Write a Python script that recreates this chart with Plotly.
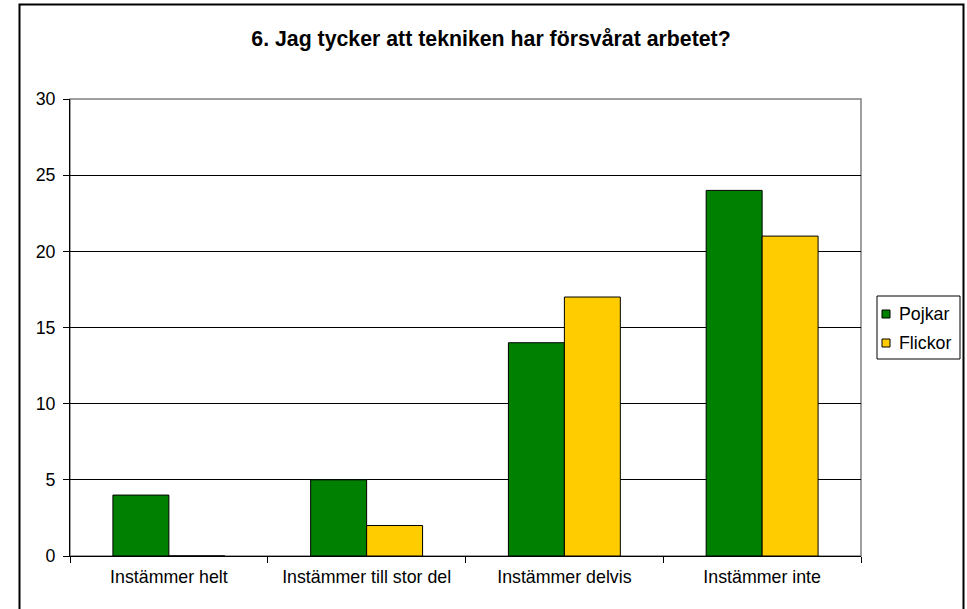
import plotly.graph_objects as go

categories = ["Instämmer helt", "Instämmer till stor del", "Instämmer delvis", "Instämmer inte"]
series_names = ["Pojkar", "Flickor"]
pojkar = [4, 5, 14, 24]
flickor = [0, 2, 17, 21]
series_colors = ["#008000", "#FFCC00"]
title_text = "6. Jag tycker att tekniken har försvårat arbetet?"

W, H = 967, 609
L, R, T, B = 70, 861, 99, 556
pw, ph = R - L, B - T
FONT = "Liberation Sans, Arial, sans-serif"
FS = 17.8


def px(x):
    return (x - L) / pw


def py(y):
    return (B - y) / ph


fig = go.Figure()
for name, vals, col in zip(series_names, [pojkar, flickor], series_colors):
    fig.add_trace(go.Bar(x=categories, y=vals, name=name, showlegend=False,
                         marker=dict(color=col, line=dict(color="black", width=1))))

shapes = [
    dict(type="rect", xref="paper", yref="paper", x0=0, x1=1, y0=0, y1=1,
         line=dict(color="#808080", width=1.5), layer="below"),
    dict(type="rect", xref="paper", yref="paper",
         x0=px(19.5), x1=px(963.5), y0=py(614), y1=py(4.5),
         line=dict(color="black", width=2)),
    # legend box
    dict(type="rect", xref="paper", yref="paper",
         x0=px(877), x1=px(960), y0=py(359), y1=py(296),
         line=dict(color="black", width=1), fillcolor="white"),
]
annotations = []
leg_rows = [314, 343]
for name, col, yc in zip(series_names, series_colors, leg_rows):
    shapes.append(dict(type="rect", xref="paper", yref="paper",
                       x0=px(882), x1=px(890), y0=py(yc + 4), y1=py(yc - 4),
                       line=dict(color="black", width=1), fillcolor=col))
    annotations.append(dict(text=name, xref="paper", yref="paper",
                            x=px(897), y=py(yc), xanchor="left", yanchor="middle",
                            showarrow=False, font=dict(size=FS, color="black", family=FONT)))

fig.update_layout(
    width=W, height=H,
    margin=dict(l=L, r=W - R, t=T, b=H - B),
    paper_bgcolor="white", plot_bgcolor="white",
    font=dict(family=FONT, size=FS, color="black"),
    barmode="group", bargap=0.434, bargroupgap=0,
    showlegend=False,
    title=dict(text="<b>" + title_text + "</b>", x=491 / W, xanchor="center",
               xref="container", y=1 - 39 / H, yanchor="middle", yref="container",
               font=dict(size=21.3, color="black", family=FONT)),
    xaxis=dict(showline=True, linecolor="black", linewidth=1,
               ticks="outside", tickson="boundaries", ticklen=6, tickcolor="black",
               ticklabelstandoff=5, tickfont=dict(size=FS), showgrid=False),
    yaxis=dict(range=[0, 30], dtick=5, showline=True, linecolor="black", linewidth=1,
               ticks="outside", ticklen=6, tickcolor="black", ticklabelstandoff=4,
               showgrid=True, gridcolor="black", gridwidth=1, zeroline=False,
               tickfont=dict(size=FS)),
    shapes=shapes,
    annotations=annotations,
)

fig.write_html("out.html", config={"displayModeBar": False},
               post_script="document.body.style.margin='0';document.body.style.padding='0';")
